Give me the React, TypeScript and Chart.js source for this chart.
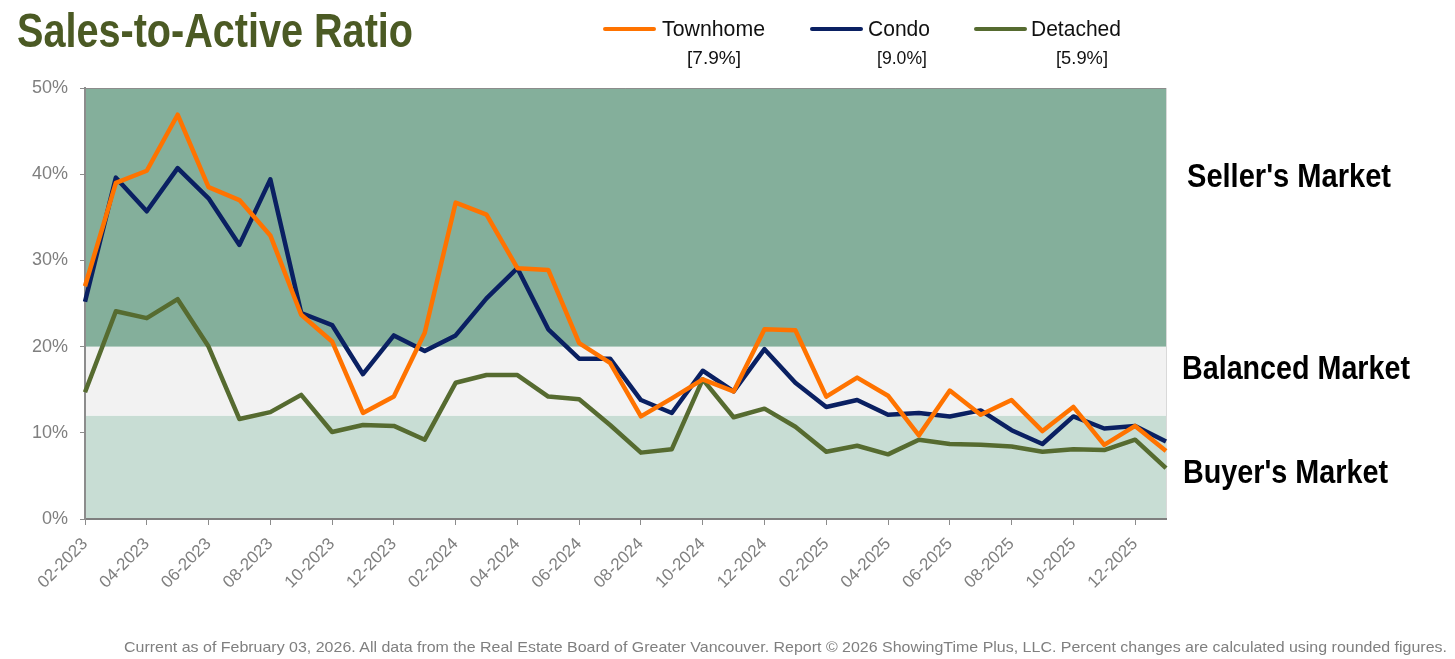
import React, { useEffect, useLayoutEffect, useRef } from "react";
import { Chart, registerables } from "chart.js";

Chart.register(...registerables);

const months = [
  "02-2023", "03-2023", "04-2023", "05-2023", "06-2023", "07-2023", "08-2023", "09-2023",
  "10-2023", "11-2023", "12-2023", "01-2024", "02-2024", "03-2024", "04-2024", "05-2024",
  "06-2024", "07-2024", "08-2024", "09-2024", "10-2024", "11-2024", "12-2024", "01-2025",
  "02-2025", "03-2025", "04-2025", "05-2025", "06-2025", "07-2025", "08-2025", "09-2025",
  "10-2025", "11-2025", "12-2025", "01-2026",
];

const townhome = [
  27.0, 39.0, 40.4, 46.9, 38.5, 37.0, 32.9, 23.7, 20.6, 12.3, 14.2, 21.6,
  36.7, 35.3, 29.1, 28.9, 20.4, 18.1, 11.9, 14.0, 16.2, 14.8, 22.0, 21.9,
  14.2, 16.4, 14.3, 9.7, 14.9, 12.1, 13.8, 10.2, 13.0, 8.6, 10.8, 7.9,
];

const condo = [
  25.2, 39.6, 35.7, 40.7, 37.2, 31.8, 39.4, 23.9, 22.5, 16.8, 21.3, 19.5,
  21.3, 25.6, 29.1, 22.0, 18.6, 18.6, 13.8, 12.3, 17.2, 14.8, 19.7, 15.8,
  13.0, 13.8, 12.1, 12.3, 11.9, 12.6, 10.3, 8.7, 11.9, 10.5, 10.8, 9.0,
];

const detached = [
  14.7, 24.1, 23.3, 25.5, 20.0, 11.6, 12.4, 14.4, 10.1, 10.9, 10.8, 9.2,
  15.8, 16.7, 16.7, 14.2, 13.9, 10.9, 7.7, 8.1, 16.2, 11.8, 12.8, 10.7,
  7.8, 8.5, 7.5, 9.2, 8.7, 8.6, 8.4, 7.8, 8.1, 8.0, 9.2, 5.9,
];

const seriesNames = ["Townhome", "Condo", "Detached"];
const seriesLatest = ["[7.9%]", "[9.0%]", "[5.9%]"];
const seriesColors = ["#FF7300", "#0A2062", "#566B30"];

const yTicks = [0, 10, 20, 30, 40, 50];

// market bands: limits in %, colours and labels from bottom to top
const bandLimits = [0, 12, 20, 50];
const bandColors = ["#C8DDD4", "#F2F2F2", "#84AF9B"];
const bandLabels = ["Buyer's Market", "Balanced Market", "Seller's Market"];

const titleText = "Sales-to-Active Ratio";
const footerText =
  "Current as of February 03, 2026. All data from the Real Estate Board of Greater Vancouver.  Report \u00A9 2026 ShowingTime Plus, LLC. Percent changes are calculated using rounded figures.";

const SANS = "'Liberation Sans', Arial, sans-serif";
const NARROW = "'Liberation Sans Narrow', 'Arial Narrow', 'Liberation Sans', sans-serif";

type FitProps = {
  text: string;
  left: number;
  baseline: number;
  size: number;
  width: number;
  weight?: number;
  family: string;
  color: string;
};

function FitText({ text, left, baseline, size, width, weight = 400, family, color }: FitProps) {
  const ref = useRef<HTMLSpanElement>(null);
  useLayoutEffect(() => {
    const el = ref.current;
    if (!el) return;
    el.style.transform = "none";
    const w = el.getBoundingClientRect().width;
    if (w > 0) el.style.transform = `scaleX(${width / w})`;
  }, [text, width]);
  return (
    <span
      ref={ref}
      style={{
        position: "absolute",
        left,
        top: baseline - size * 0.8465,
        fontSize: size,
        lineHeight: `${size}px`,
        fontFamily: family,
        fontWeight: weight,
        color,
        whiteSpace: "nowrap",
        transformOrigin: "0 0",
      }}
    >
      {text}
    </span>
  );
}

const bandsPlugin = {
  id: "bands",
  beforeDraw(chart: any) {
    const { ctx, chartArea, scales } = chart;
    const y = scales.y;
    ctx.save();
    for (let i = 0; i < bandColors.length; i++) {
      const top = y.getPixelForValue(bandLimits[i + 1]);
      const bottom = y.getPixelForValue(bandLimits[i]);
      ctx.fillStyle = bandColors[i];
      ctx.fillRect(chartArea.left, top, chartArea.right - chartArea.left, bottom - top);
    }
    ctx.strokeStyle = "#8C8C8C";
    ctx.lineWidth = 1;
    ctx.beginPath();
    ctx.moveTo(chartArea.left, Math.round(chartArea.top) + 0.5);
    ctx.lineTo(chartArea.right, Math.round(chartArea.top) + 0.5);
    ctx.stroke();
    ctx.strokeStyle = "#D9D9D9";
    ctx.beginPath();
    ctx.moveTo(Math.round(chartArea.right) + 0.5, chartArea.top);
    ctx.lineTo(Math.round(chartArea.right) + 0.5, chartArea.bottom);
    ctx.stroke();
    ctx.restore();
  },
};

export default function App() {
  const canvasRef = useRef<HTMLCanvasElement>(null);

  useEffect(() => {
    const canvas = canvasRef.current;
    if (!canvas) return;
    const data = [townhome, condo, detached];
    const chart = new Chart(canvas, {
      type: "line",
      data: {
        labels: months,
        datasets: seriesNames.map((name, i) => ({
          label: name,
          data: data[i],
          borderColor: seriesColors[i],
          backgroundColor: seriesColors[i],
          borderWidth: 4.5,
          pointRadius: 0,
          pointHoverRadius: 0,
          tension: 0,
          borderJoinStyle: "round" as const,
          borderCapStyle: "butt" as const,
          fill: false,
        })),
      },
      options: {
        responsive: false,
        animation: false,
        devicePixelRatio: 1,
        layout: { padding: { left: 0, top: 88, right: 289, bottom: 0 } },
        plugins: {
          legend: { display: false },
          tooltip: { enabled: false },
          title: { display: false },
        },
        scales: {
          x: {
            type: "category",
            offset: false,
            grid: {
              drawOnChartArea: false,
              drawTicks: true,
              tickLength: 6,
              color: "#8C8C8C",
              lineWidth: 1,
            },
            border: { display: true, color: "#7F7F7F", width: 2 },
            ticks: {
              autoSkip: false,
              maxRotation: 45,
              minRotation: 45,
              padding: 9,
              color: "#7F7F7F",
              font: { family: SANS, size: 17 },
              callback: (_v: any, i: number) => (i % 2 === 0 ? months[i] : null),
            },
            afterFit: (scale: any) => {
              scale.height = 140;
            },
          },
          y: {
            min: 0,
            max: 50,
            afterBuildTicks: (scale: any) => {
              scale.ticks = yTicks.map((v) => ({ value: v }));
            },
            grid: {
              drawOnChartArea: false,
              drawTicks: true,
              tickLength: 5,
              color: "#8C8C8C",
            },
            border: { display: true, color: "#8C8C8C", width: 2 },
            ticks: {
              padding: 12,
              color: "#7F7F7F",
              font: { family: SANS, size: 18 },
              callback: (v: any) => `${v}%`,
            },
            afterFit: (scale: any) => {
              scale.width = 85;
            },
          },
        },
      },
      plugins: [bandsPlugin],
    });
    return () => chart.destroy();
  }, []);

  const legendSwatchX = [603, 810, 974];
  const legendTextX = [662, 868, 1031];
  const legendTextW = [103, 62, 90];
  const legendValX = [687, 877, 1056];
  const legendValW = [54, 50, 52];

  const bandLabelX = [1183, 1182, 1187];
  const bandLabelBase = [483, 379, 187];
  const bandLabelW = [205, 228, 204];

  return (
    <div
      style={{
        position: "fixed",
        left: 0,
        top: 0,
        width: 1455,
        height: 659,
        background: "#FFFFFF",
        overflow: "hidden",
      }}
    >
      <canvas
        ref={canvasRef}
        width={1455}
        height={659}
        style={{ position: "absolute", left: 0, top: 0, width: 1455, height: 659 }}
      />
      <FitText
        text={titleText}
        left={17}
        baseline={48}
        size={48}
        width={396}
        weight={700}
        family={NARROW}
        color="#4B5A24"
      />
      {seriesNames.map((name, i) => (
        <React.Fragment key={name}>
          <div
            style={{
              position: "absolute",
              left: legendSwatchX[i],
              top: 27,
              width: 53,
              height: 4,
              borderRadius: 2,
              background: seriesColors[i],
            }}
          />
          <FitText
            text={name}
            left={legendTextX[i]}
            baseline={36.5}
            size={22}
            width={legendTextW[i]}
            family={SANS}
            color="#111111"
          />
          <FitText
            text={seriesLatest[i]}
            left={legendValX[i]}
            baseline={64}
            size={19}
            width={legendValW[i]}
            family={SANS}
            color="#111111"
          />
        </React.Fragment>
      ))}
      {bandLabels.map((label, i) => (
        <FitText
          key={label}
          text={label}
          left={bandLabelX[i]}
          baseline={bandLabelBase[i]}
          size={33}
          width={bandLabelW[i]}
          weight={700}
          family={NARROW}
          color="#000000"
        />
      ))}
      <FitText
        text={footerText}
        left={124}
        baseline={652}
        size={15}
        width={1323}
        family={SANS}
        color="#7F7F7F"
      />
    </div>
  );
}
